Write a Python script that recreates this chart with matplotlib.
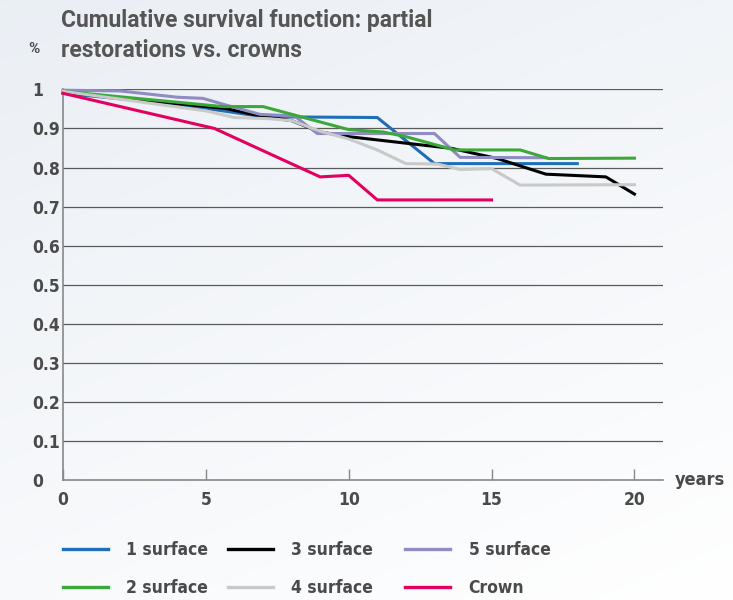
import matplotlib
matplotlib.use("Agg")
import matplotlib.pyplot as plt
import numpy as np
from matplotlib import font_manager

# survival curves (years, cumulative survival)
surface1_x = [0, 4, 7, 11, 13, 18]
surface1_y = [0.99, 0.962, 0.93, 0.928, 0.81, 0.81]
surface2_x = [0, 5.6, 7, 10, 11.2, 12, 13.7, 16, 17, 20]
surface2_y = [0.995, 0.956, 0.956, 0.897, 0.891, 0.879, 0.845, 0.845, 0.823, 0.824]
surface3_x = [0, 5.7, 7, 8, 9, 10, 13.6, 15.2, 16.9, 19, 20]
surface3_y = [0.993, 0.951, 0.93, 0.92, 0.891, 0.879, 0.849, 0.823, 0.783, 0.776, 0.732]
surface4_x = [0, 5, 6, 7.2, 8, 9, 10, 11, 12, 13.1, 13.9, 15, 16, 20]
surface4_y = [0.995, 0.945, 0.928, 0.925, 0.92, 0.893, 0.873, 0.845, 0.81, 0.809,
              0.795, 0.797, 0.755, 0.756]
surface5_x = [0, 2, 4, 4.9, 5.7, 6.9, 8.1, 8.9, 13, 13.9, 16.9]
surface5_y = [0.998, 0.996, 0.98, 0.977, 0.96, 0.936, 0.932, 0.887, 0.887, 0.826, 0.825]
crown_x = [0, 5.3, 9, 10, 11, 15]
crown_y = [0.99, 0.90, 0.776, 0.78, 0.717, 0.717]

y_ticks = [0, 0.1, 0.2, 0.3, 0.4, 0.5, 0.6, 0.7, 0.8, 0.9, 1]
y_labels = ["0", "0.1", "0.2", "0.3", "0.4", "0.5", "0.6", "0.7", "0.8", "0.9", "1"]
x_ticks = [0, 5, 10, 15, 20]


def pick_narrow():
    # look for a condensed / narrow bold face among installed fonts
    cands = []
    for f in font_manager.fontManager.ttflist:
        low = (f.name + " " + f.fname).lower()
        if "narrow" in low or "condensed" in low:
            cands.append(f)
    bold = [f for f in cands if "bold" in f.fname.lower() and "oblique" not in f.fname.lower()
            and "italic" not in f.fname.lower()]
    if bold:
        return font_manager.FontProperties(fname=bold[0].fname)
    return font_manager.FontProperties(family="DejaVu Sans", weight="bold")


narrow_fp = pick_narrow()
text_col = "#4a4a4a"


def nprop(size):
    fp = narrow_fp.copy()
    fp.set_size(size)
    return fp


fig = plt.figure(figsize=(7.33, 6.0), dpi=100)

# soft background gradient
bg = fig.add_axes([0, 0, 1, 1], zorder=-10)
gy, gx = np.mgrid[0:1:200j, 0:1:200j]
shade = np.clip(1 - 0.6 * (1 - gy) - 0.3 * (1 - gx), 0, 1)
top = np.array([0.91, 0.93, 0.955])
bot = np.array([1.0, 1.0, 1.0])
img = top[None, None, :] * (1 - shade[..., None]) + bot[None, None, :] * shade[..., None]
bg.imshow(img, aspect="auto", extent=[0, 1, 0, 1], origin="upper")
bg.axis("off")

ax = fig.add_axes([0.086, 0.2, 0.8185, 0.651])
ax.set_facecolor("none")

series = [
    (surface1_x, surface1_y, "#1f6fb8", "1 surface"),
    (surface3_x, surface3_y, "#000000", "3 surface"),
    (surface5_x, surface5_y, "#8f8bc3", "5 surface"),
    (surface2_x, surface2_y, "#3ca83a", "2 surface"),
    (surface4_x, surface4_y, "#c9c9c9", "4 surface"),
    (crown_x, crown_y, "#e4005e", "Crown"),
]
draw_order = [4, 0, 3, 1, 2, 5]
for i in draw_order:
    xs, ys, col, lab = series[i]
    ax.plot(xs, ys, color=col, lw=2.2, clip_on=False, zorder=3 + i * 0.1)

ax.set_xlim(0, 21)
ax.set_ylim(0, 1)
for yv in y_ticks[1:]:
    ax.axhline(yv, color="#5a5a5a", lw=0.9, zorder=1)

for s in ["top", "right"]:
    ax.spines[s].set_visible(False)
for s in ["left", "bottom"]:
    ax.spines[s].set_color("#888888")
    ax.spines[s].set_linewidth(1.2)

ax.set_xticks(x_ticks)
ax.set_xticklabels([str(v) for v in x_ticks], fontproperties=nprop(12.5), color=text_col)
ax.tick_params(axis="x", direction="in", length=8, width=1, color="#888888", pad=8)
ax.set_yticks(y_ticks)
ax.set_yticklabels(y_labels, fontproperties=nprop(12.5), color=text_col, ha="left")
ax.tick_params(axis="y", length=0, pad=22)

fig.text(0.921, 0.2, "years", fontproperties=nprop(13), color=text_col,
         va="center", ha="left")
fig.text(0.038, 0.918, "%", fontfamily="Roboto", fontweight="bold", fontsize=11,
         color=text_col, va="center")
fig.text(0.083, 0.985, "Cumulative survival function: partial\nrestorations vs. crowns",
         fontfamily="Roboto", fontweight="bold", fontsize=16.5, color="#555555",
         va="top", ha="left", linespacing=1.4)

# legend: three columns, each with two rows
cols = [(0, 3, 0.086), (1, 4, 0.311), (2, 5, 0.553)]
for a, b, xpos in cols:
    hs = [plt.Line2D([], [], color=series[k][2], lw=2.4) for k in (a, b)]
    ls = [series[k][3] for k in (a, b)]
    leg = fig.legend(hs, ls, loc="upper left", bbox_to_anchor=(xpos, 0.098),
                     frameon=False, borderpad=0, borderaxespad=0,
                     handlelength=2.6, handletextpad=1.05, labelspacing=1.15,
                     prop=nprop(12.5))
    for t in leg.get_texts():
        t.set_color(text_col)

fig.savefig("out.png", dpi=100)
